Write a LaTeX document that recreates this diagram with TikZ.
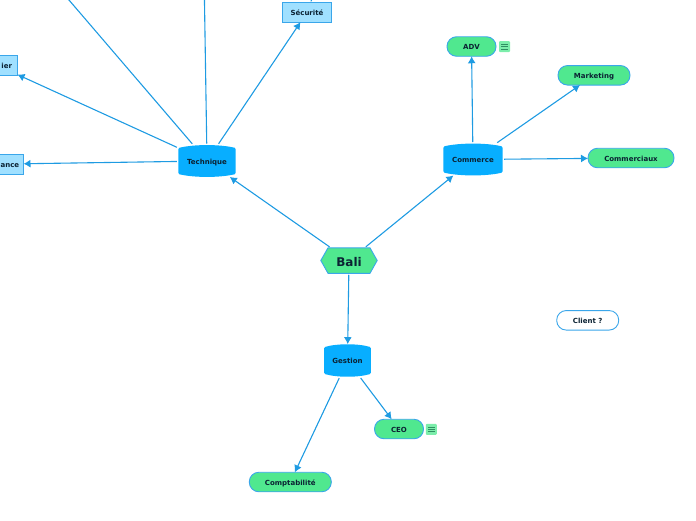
\documentclass[tikz,border=0pt]{standalone}
\usepackage{fontspec}
\setmainfont{DejaVu Sans}
\usetikzlibrary{arrows.meta}
\definecolor{linkblue}{HTML}{1E9BE2}
\definecolor{edgeblue}{HTML}{3AA6EA}
\definecolor{drumblue}{HTML}{08AEFF}
\definecolor{mintgreen}{HTML}{50E88F}
\definecolor{paleblue}{HTML}{A0E0FF}
\definecolor{inkdark}{HTML}{0B2233}
\definecolor{badgeline}{HTML}{2F8F62}
\tikzset{
  x=1pt,y=-1pt,
  label text/.style={font=\bfseries\fontsize{7}{8}\selectfont,text=inkdark,inner sep=0pt,outer sep=0pt,text height=6.8pt,text depth=0pt},
  pill/.style={label text,draw=edgeblue,line width=0.9pt,rounded corners=9.5pt,minimum height=19.5pt},
  greenpill/.style={pill,fill=mintgreen},
  whitepill/.style={pill,fill=white},
  sidebox/.style={label text,draw=edgeblue,fill=paleblue,line width=0.9pt,minimum height=19.5pt},
  badge/.style={fill=mintgreen!75!white,inner sep=0pt,minimum width=11pt,minimum height=11pt,rounded corners=1pt},
  link/.style={draw=linkblue,line width=1.1pt,shorten <=1.5pt,-{Latex[length=7pt,width=8pt]}},
  plainlink/.style={draw=linkblue,line width=1.1pt,shorten <=1.5pt},
}
% name, centre x, centre y, half width, half height, text
\newcommand{\drumnode}[6]{%
  \fill[drumblue,rounded corners=1.2pt]
    (#2-#4,#3-#5+3) .. controls (#2-#4*0.45,#3-#5-0.8) and (#2+#4*0.45,#3-#5-0.8) .. (#2+#4,#3-#5+3)
    -- (#2+#4,#3+#5-3) .. controls (#2+#4*0.45,#3+#5+0.8) and (#2-#4*0.45,#3+#5+0.8) .. (#2-#4,#3+#5-3) -- cycle;
  \node[label text,minimum width=2*#4*1pt,minimum height=2*#5*1pt] (#1) at (#2,#3) {#6};
}
\newcommand{\badgeicon}[3]{%
  \node[badge] (#1) at (#2,#3) {};
  \draw[badgeline,line width=0.8pt] (#2-3.2,#3-2.4) -- (#2+3.2,#3-2.4) (#2-3.2,#3) -- (#2+3.2,#3) (#2-3.2,#3+2.4) -- (#2+3.2,#3+2.4);
}
\begin{document}
\begin{tikzpicture}
\useasboundingbox (0,0) rectangle (696,520);
% central hexagon
\path[fill=mintgreen,draw=edgeblue,line width=0.9pt,line join=round]
  (320.8,260.5) -- (328,247.8) -- (370,247.8) -- (377.2,260.5) -- (370,273.3) -- (328,273.3) -- cycle;
\node[label text,font=\bfseries\fontsize{12}{13}\selectfont,text height=12pt,minimum width=56pt,minimum height=25.5pt] (bali) at (349,260.5) {Bali};
% main branches
\drumnode{tech}{207}{161}{28.7}{16}{Technique}
\drumnode{comm}{473}{159.5}{29.6}{16}{Commerce}
\drumnode{gest}{347.5}{360.5}{23.4}{16.3}{Gestion}
% leaves
\node[sidebox,minimum width=49pt] (secu) at (307,12.5) {Sécurité};
\node[sidebox,minimum width=40pt,text width=29pt,align=right] (four) at (-2.5,65.5) {ier};
\node[sidebox,minimum width=60pt,text width=51.4pt,align=right] (main) at (-6.5,164.2) {ance};
\node[greenpill,minimum width=49pt] (adv) at (471.5,46.5) {ADV};
\node[greenpill,minimum width=72pt] (mark) at (594,75.3) {Marketing};
\node[greenpill,minimum width=86pt] (comx) at (631,158) {Commerciaux};
\node[greenpill,minimum width=49pt] (ceo) at (399,429) {CEO};
\node[greenpill,minimum width=82pt] (compta) at (290.3,482) {Comptabilité};
\node[whitepill,minimum width=62pt] (client) at (587.7,320.3) {Client ?};
\badgeicon{advb}{504.5}{46.7}
\badgeicon{ceob}{431.3}{429.3}
% off-canvas ends
\coordinate (offa) at (60.4,-10);
\coordinate (offb) at (204.3,-10);
\coordinate (offc) at (315,-10);
% connectors
\draw[link] (bali) -- (tech);
\draw[link] (bali) -- (comm);
\draw[link] (bali) -- (gest);
\draw[link] (tech) -- (secu);
\draw[link] (tech) -- (four);
\draw[link] (tech) -- (main);
\draw[plainlink] (tech) -- (offa);
\draw[plainlink] (tech) -- (offb);
\draw[plainlink] (secu) -- (offc);
\draw[link] (comm) -- (adv);
\draw[link] (comm) -- (mark);
\draw[link] (comm) -- (comx);
\draw[link] (gest) -- (compta);
\draw[link] (gest) -- (ceo);
\end{tikzpicture}
\end{document}
